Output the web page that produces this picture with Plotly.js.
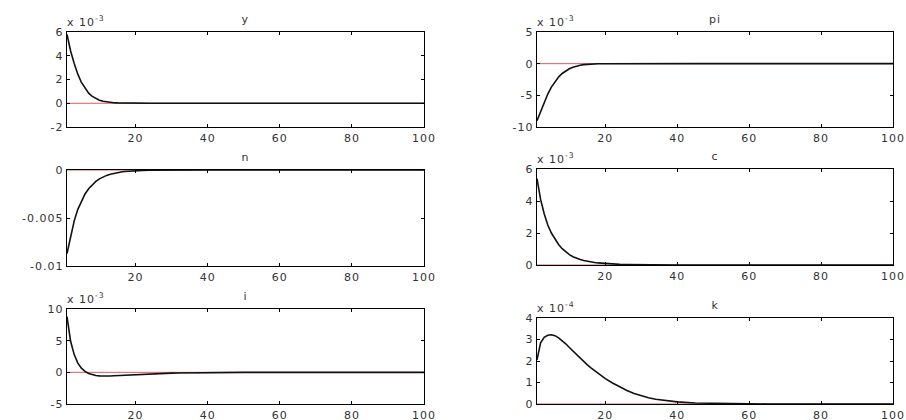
<!DOCTYPE html>
<html>
<head>
<meta charset="utf-8">
<script src="https://cdn.plot.ly/plotly-3.0.1.min.js"></script>
<style>
  html, body { margin: 0; padding: 0; background: #fff; }
  #chart { width: 906px; height: 420px; }
  .main-svg text { letter-spacing: 1px; }
</style>
</head>
<body>
<div id="chart"></div>
<script>
// Periods
const periods = [1,2,3,4,5,6,7,8,9,10,11,12,13,14,15,16,17,18,19,20,
                 22,24,26,28,30,32,34,36,38,40,
                 45,50,55,60,65,70,75,80,85,90,95,100];

// Impulse responses
const yResp = [5.8e-3,4.4e-3,3.35e-3,2.45e-3,1.75e-3,1.25e-3,0.85e-3,0.58e-3,0.40e-3,0.26e-3,
               0.17e-3,0.11e-3,0.07e-3,0.045e-3,0.03e-3,0.02e-3,0.013e-3,0.008e-3,0.005e-3,0.003e-3,
               0.0015e-3,0.0008e-3,0.0004e-3,0.0002e-3,0.0001e-3,0,0,0,0,0,
               0,0,0,0,0,0,0,0,0,0,0,0];
const piResp = [-9.0e-3,-7.6e-3,-6.1e-3,-4.8e-3,-3.7e-3,-2.8e-3,-2.1e-3,-1.55e-3,-1.12e-3,-0.8e-3,
                -0.55e-3,-0.37e-3,-0.24e-3,-0.15e-3,-0.09e-3,-0.05e-3,-0.03e-3,-0.015e-3,-0.008e-3,-0.004e-3,
                -0.001e-3,0,0,0,0,0,0,0,0,0,
                0,0,0,0,0,0,0,0,0,0,0,0];
const nResp = [-8.7e-3,-6.8e-3,-5.3e-3,-4.1e-3,-3.2e-3,-2.5e-3,-1.95e-3,-1.52e-3,-1.18e-3,-0.92e-3,
               -0.72e-3,-0.56e-3,-0.44e-3,-0.34e-3,-0.27e-3,-0.21e-3,-0.16e-3,-0.13e-3,-0.10e-3,-0.08e-3,
               -0.05e-3,-0.03e-3,-0.018e-3,-0.011e-3,-0.007e-3,-0.004e-3,-0.0025e-3,-0.0015e-3,-0.001e-3,-0.0006e-3,
               -0.0002e-3,0,0,0,0,0,0,0,0,0,0,0];
const cResp = [5.4e-3,4.1e-3,3.2e-3,2.5e-3,2.0e-3,1.6e-3,1.28e-3,1.02e-3,0.81e-3,0.65e-3,
               0.52e-3,0.42e-3,0.34e-3,0.28e-3,0.23e-3,0.19e-3,0.16e-3,0.13e-3,0.11e-3,0.09e-3,
               0.06e-3,0.04e-3,0.027e-3,0.018e-3,0.012e-3,0.008e-3,0.005e-3,0.003e-3,0.002e-3,0.0013e-3,
               0.0005e-3,0.0002e-3,0,0,0,0,0,0,0,0,0,0];
const iResp = [8.8e-3,4.9e-3,2.8e-3,1.45e-3,0.65e-3,0.15e-3,-0.17e-3,-0.37e-3,-0.49e-3,-0.56e-3,
               -0.59e-3,-0.59e-3,-0.57e-3,-0.54e-3,-0.51e-3,-0.47e-3,-0.44e-3,-0.40e-3,-0.37e-3,-0.34e-3,
               -0.28e-3,-0.23e-3,-0.19e-3,-0.16e-3,-0.13e-3,-0.10e-3,-0.08e-3,-0.065e-3,-0.052e-3,-0.042e-3,
               -0.022e-3,-0.011e-3,-0.006e-3,-0.003e-3,-0.0015e-3,-0.001e-3,0,0,0,0,0,0];
const kResp = [2.05e-4,2.85e-4,3.1e-4,3.2e-4,3.22e-4,3.18e-4,3.08e-4,2.95e-4,2.8e-4,2.63e-4,
               2.46e-4,2.29e-4,2.13e-4,1.97e-4,1.82e-4,1.68e-4,1.55e-4,1.42e-4,1.3e-4,1.18e-4,
               0.98e-4,0.80e-4,0.63e-4,0.49e-4,0.38e-4,0.29e-4,0.22e-4,0.17e-4,0.13e-4,0.10e-4,
               0.05e-4,0.028e-4,0.014e-4,0.006e-4,0.003e-4,0.0015e-4,0.0008e-4,0.0004e-4,0,0,0,0];

// Panel titles and tick labels
const panelTitles = ['y','pi','n','c','i','k'];
const exponentLabels = ['x 10<sup>-3</sup>','x 10<sup>-3</sup>','','x 10<sup>-3</sup>','x 10<sup>-3</sup>','x 10<sup>-4</sup>'];
const xTickVals = [20,40,60,80,100];
const xTickText = ['20','40','60','80','100'];
const yTickVals = [
  [-0.002,0,0.002,0.004,0.006],
  [-0.01,-0.005,0,0.005],
  [-0.01,-0.005,0],
  [0,0.002,0.004,0.006],
  [-0.005,0,0.005,0.01],
  [0,1e-4,2e-4,3e-4,4e-4]
];
const yTickText = [
  ['-2','0','2','4','6'],
  ['-10','-5','0','5'],
  ['-0.01','-0.005','0'],
  ['0','2','4','6'],
  ['-5','0','5','10'],
  ['0','1','2','3','4']
];
const yRanges = [[-0.002,0.006],[-0.01,0.005],[-0.01,0],[0,0.006],[-0.005,0.01],[0,4e-4]];
const responses = [yResp, piResp, nResp, cResp, iResp, kResp];
const zeroLine = periods.map(() => 0);

// Layout geometry (pixels)
const W = 906, H = 420;
const boxes = [
  {l:67, r:424, t:32, b:127},
  {l:537, r:893, t:32, b:127},
  {l:67, r:424, t:170, b:266},
  {l:537, r:893, t:169, b:265},
  {l:67, r:424, t:309, b:404},
  {l:537, r:893, t:318, b:404}
];

const fontFam = '"DejaVu Sans", "Liberation Sans", Arial, sans-serif';
const data = [];
const layout = {
  width: W, height: H,
  margin: {l:0, r:0, t:0, b:0},
  paper_bgcolor: '#fff', plot_bgcolor: '#fff',
  showlegend: false,
  font: {family: fontFam, size: 11, color: '#333'},
  annotations: []
};

boxes.forEach((bx, idx) => {
  const n = idx + 1;
  const xa = n === 1 ? 'x' : 'x' + n;
  const ya = n === 1 ? 'y' : 'y' + n;
  const xKey = n === 1 ? 'xaxis' : 'xaxis' + n;
  const yKey = n === 1 ? 'yaxis' : 'yaxis' + n;
  data.push({x: periods, y: zeroLine, xaxis: xa, yaxis: ya, type: 'scatter', mode: 'lines',
             line: {color: '#e05a5a', width: 1}, hoverinfo: 'skip'});
  data.push({x: periods, y: responses[idx], xaxis: xa, yaxis: ya, type: 'scatter', mode: 'lines',
             line: {color: '#111', width: 1.6}, name: panelTitles[idx]});
  layout[xKey] = {
    domain: [bx.l / W, bx.r / W], anchor: ya, range: [1, 100],
    tickvals: xTickVals, ticktext: xTickText, ticks: 'inside', ticklen: 3, tickcolor: '#000',
    showline: true, linecolor: '#000', linewidth: 1.3, mirror: 'allticks',
    showgrid: false, zeroline: false, fixedrange: true,
    tickfont: {family: fontFam, size: 11, color: '#333'}
  };
  layout[yKey] = {
    domain: [1 - bx.b / H, 1 - bx.t / H], anchor: xa, range: yRanges[idx],
    tickvals: yTickVals[idx], ticktext: yTickText[idx], ticks: 'inside', ticklen: 3, tickcolor: '#000',
    showline: true, linecolor: '#000', linewidth: 1.3, mirror: 'allticks',
    showgrid: false, zeroline: false, fixedrange: true,
    tickfont: {family: fontFam, size: 11, color: '#333'}
  };
  layout.annotations.push({
    text: panelTitles[idx], xref: 'paper', yref: 'paper',
    x: ((bx.l + bx.r) / 2) / W, y: 1 - (bx.t - 4) / H,
    xanchor: 'center', yanchor: 'bottom', showarrow: false,
    font: {family: fontFam, size: 11, color: '#333'}
  });
  if (exponentLabels[idx]) {
    layout.annotations.push({
      text: exponentLabels[idx], xref: 'paper', yref: 'paper',
      x: (bx.l + 1) / W, y: 1 - (bx.t - 1) / H,
      xanchor: 'left', yanchor: 'bottom', showarrow: false,
      font: {family: fontFam, size: 11, color: '#333'}
    });
  }
});

Plotly.newPlot('chart', data, layout, {staticPlot: true, displayModeBar: false});
</script>
</body>
</html>
